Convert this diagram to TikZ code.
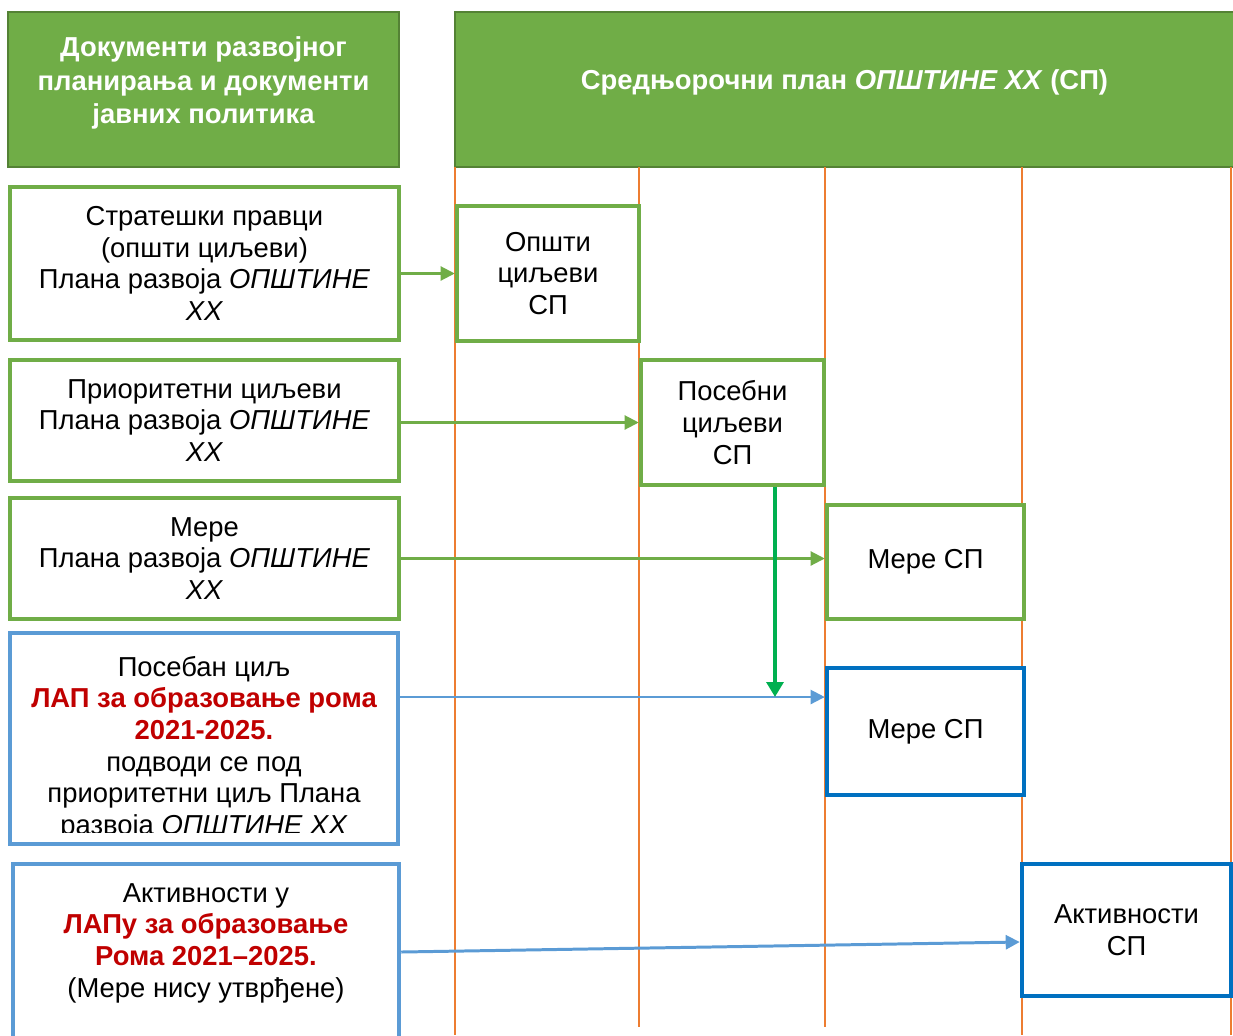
\documentclass[tikz,border=0pt]{standalone}
\usepackage{fontspec}
\setmainfont{Liberation Sans}
\usetikzlibrary{arrows.meta}
\definecolor{hdrgreen}{HTML}{70AD47}
\definecolor{hdrdark}{HTML}{548235}
\definecolor{lightblue}{HTML}{5B9BD5}
\definecolor{darkblue}{HTML}{0070C0}
\definecolor{lifeorange}{HTML}{ED7D31}
\definecolor{downgreen}{HTML}{00B050}
\definecolor{lapred}{HTML}{C00000}
\newcommand{\opst}{\textit{ОПШТИНЕ}}
\begin{document}
\begin{tikzpicture}[x=0.02cm, y=-0.02cm,
  head box/.style={rectangle,draw=hdrdark,fill=hdrgreen,line width=1.2pt,inner sep=0pt},
  head text/.style={text=white,align=center,inner sep=0pt,font=\fontsize{15.6}{19.2}\selectfont\bfseries},
  box text/.style={align=center,inner sep=0pt,font=\fontsize{15.6}{18}\selectfont},
  main box/.style={rectangle,draw,fill=white,line width=2.6pt,box text},
  plan box/.style={main box,draw=hdrgreen},
  lap box/.style={main box,draw=lightblue},
  sp box/.style={main box,draw=darkblue},
  lifeline/.style={draw=lifeorange,line width=0.6pt},
  green arrow/.style={draw=hdrgreen,line width=1.2pt,-{Triangle[length=8pt,width=8pt]}},
  blue arrow/.style={draw=lightblue,line width=1.2pt,-{Triangle[length=8pt,width=8pt]}}]
\useasboundingbox (0,0) rectangle (1233,1035);
% headers
\node[head box,minimum width=7.82cm,minimum height=3.1cm] (hdrl) at (203.5,89.5) {};
\node[head text] (hdrltxt) at (203.5,83) {Документи развојног\\планирања и документи\\јавних политика};
\node[head box,minimum width=15.62cm,minimum height=3.1cm] (hdrr) at (845.5,89.5) {};
\node[head text] (hdrrtxt) at (844.5,82) {Средњорочни план \textit{ОПШТИНЕ XX} (СП)};
% lifelines
\foreach \x/\e in {455/1035,639/1027,825/1027,1022/1035,1231/1035}
  \draw[lifeline] (\x,167) -- (\x,\e);
% left column
\begin{scope}[every node/.style={minimum width=7.78cm}]
\node[plan box,minimum height=3.06cm] (l1) at (204.5,263.5) {Стратешки правци\\(општи циљеви)\\Плана развоја \opst\\\textit{XX}};%1
\node[plan box,minimum height=2.42cm] (l2) at (204.5,420.5) {Приоритетни циљеви\\Плана развоја \opst\\\textit{XX}};%2
\node[plan box,minimum height=2.42cm] (l3) at (204.5,558.5) {Мере\\Плана развоја \opst\\\textit{XX}};%3
\end{scope}
\node[lap box,minimum width=7.76cm,minimum height=4.22cm] (l4) at (204,738.5) {};%4
\begin{scope}
\clip (12,635) rectangle (396,832);
\node[box text] (l4txt) at (204,748) {Посебан циљ\\{\color{lapred}\bfseries ЛАП за образовање рома}\\{\color{lapred}\bfseries 2021-2025.}\\подводи се под\\приоритетни циљ Плана\\развоја \opst\ \textit{XX}};
\end{scope}
\node[lap box,minimum width=7.72cm,minimum height=3.52cm] (l5) at (206,952) {};%5
\node[box text] (l5txt) at (206,943) {Активности у\\{\color{lapred}\bfseries ЛАПу за образовање}\\{\color{lapred}\bfseries Рома 2021–2025.}\\(Мере нису утврђене)};
% right column
\node[plan box,minimum width=3.64cm,minimum height=2.7cm] (s1) at (548,273.5) {Општи\\циљеви\\СП};
\node[plan box,minimum width=3.66cm,minimum height=2.5cm] (s2) at (732.5,422.5) {Посебни\\циљеви\\СП};
\node[plan box,minimum width=3.94cm,minimum height=2.28cm] (s3) at (925.5,562) {Мере СП};
\node[sp box,minimum width=3.94cm,minimum height=2.54cm] (s4) at (925.5,731.5) {Мере СП};
\node[sp box,minimum width=4.18cm,minimum height=2.64cm] (s5) at (1126.5,930) {Активности\\СП};
% arrows
\coordinate (m4) at ([yshift=0.69cm]s4.west);
\coordinate (a5) at ([yshift=-0.24cm]s5.west);
\draw[green arrow] (l1.east |- s1) -- (s1.west);
\draw[green arrow] (l2.east |- s2) -- (s2.west);
\draw[green arrow] (l3.east) -- (l3.east -| s3.west);
\draw[blue arrow] (l4.east |- m4) -- (m4);
\draw[blue arrow,line width=1.7pt] (l5.east) -- (a5);
\draw[draw=downgreen,line width=2.8pt,-{Triangle[length=8.5pt,width=9.5pt]}] ([xshift=0.85cm]s2.south) -- ([xshift=0.85cm]s2.south |- m4);
\end{tikzpicture}
\end{document}
